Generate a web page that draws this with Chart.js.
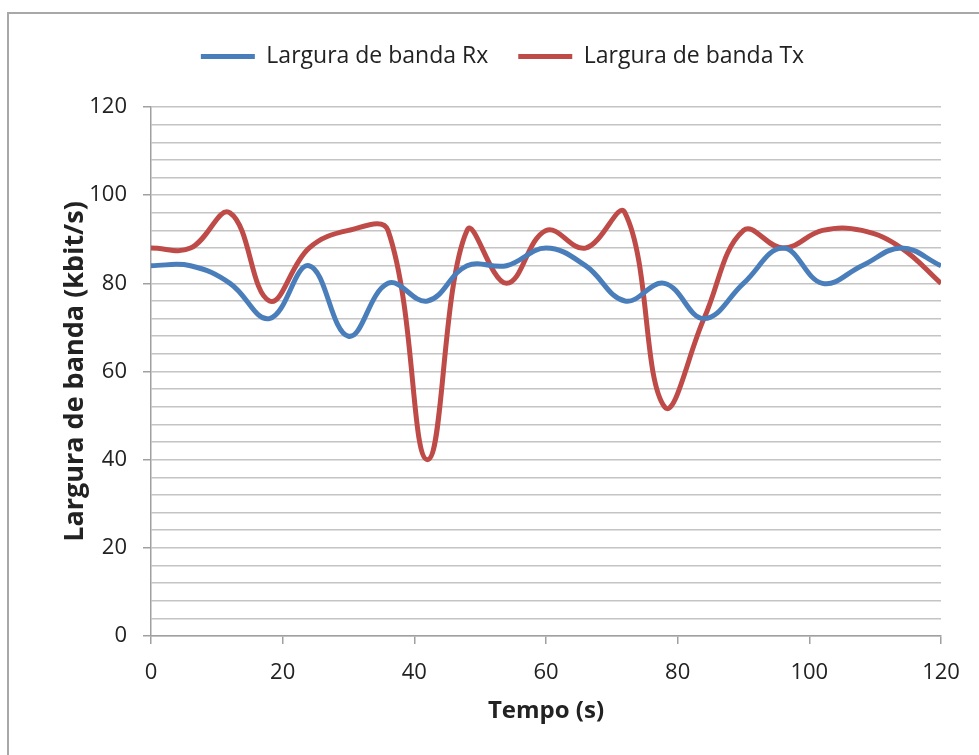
<!DOCTYPE html>
<html>
<head>
<meta charset="utf-8">
<script src="https://cdn.jsdelivr.net/npm/chart.js@4"></script>
<style>
  body { margin: 0; background: #fff; }
  #wrap { position: relative; width: 979px; height: 755px; overflow: hidden; }
  #frame { position: absolute; left: 7px; top: 12px; width: 1000px; height: 800px; border: 2px solid #a8a8a8; }
  canvas { position: absolute; left: 0; top: 0; }
</style>
</head>
<body>
<div id="wrap">
  <div id="frame"></div>
  <canvas id="myChart" width="979" height="755"></canvas>
</div>
<script>
let times = [0, 6, 12, 18, 24, 30, 36, 42, 48, 54, 60, 66, 72, 78, 84, 90, 96, 102, 108, 114, 120];
let rx = [84, 84, 80, 72, 84, 68, 80, 76, 84, 84, 88, 84, 76, 80, 72, 80, 88, 80, 84, 88, 84];
let tx = [88, 88, 96, 76, 88, 92, 92, 40, 92, 80, 92, 88, 96, 52, 72, 92, 88, 92, 92, 88, 80];
let seriesNames = ['Largura de banda Rx', 'Largura de banda Tx'];
let colors = ['#4a7ebb', '#be4b48'];

let textColor = '#222';
let axisGrey = '#a0a0a0';

function points(values) {
    return values.map((v, i) => ({ x: times[i], y: v }));
}

// extra room under the legend, and draw it a little to the right like the Excel layout
let legendGap = {
    id: 'legendGap',
    beforeInit(chart) {
        let legend = chart.legend;
        let fit = legend.fit;
        legend.fit = function () {
            fit.call(this);
            this.height += 29;
        };
        let draw = legend.draw;
        legend.draw = function () {
            let c = this.ctx;
            c.save();
            c.translate(11, 0);
            draw.call(this);
            c.restore();
        };
    }
};

let ctx = document.getElementById('myChart').getContext('2d');

let chart = new Chart(ctx, {
    type: 'line',
    data: {
        datasets: [{
            label: seriesNames[0],
            data: points(rx),
            borderColor: colors[0],
            backgroundColor: colors[0],
            borderWidth: 5,
            pointRadius: 0,
            tension: 0.4
        }, {
            label: seriesNames[1],
            data: points(tx),
            borderColor: colors[1],
            backgroundColor: colors[1],
            borderWidth: 5,
            pointRadius: 0,
            tension: 0.4
        }]
    },
    plugins: [legendGap],
    options: {
        responsive: false,
        animation: false,
        layout: {
            padding: { left: 42, right: 38, top: 15, bottom: 25 }
        },
        plugins: {
            legend: {
                position: 'top',
                labels: {
                    boxWidth: 54,
                    boxHeight: 5,
                    padding: 30,
                    color: textColor,
                    font: { family: 'Open Sans', size: 23 },
                    generateLabels(chart) {
                        let items = Chart.defaults.plugins.legend.labels.generateLabels(chart);
                        items.forEach(item => {
                            item.lineWidth = 0;
                            item.fillStyle = item.strokeStyle;
                        });
                        return items;
                    }
                }
            },
            tooltip: { enabled: false }
        },
        scales: {
            x: {
                type: 'linear',
                min: 0,
                max: 120,
                afterFit(scale) { scale.height = 94; },
                ticks: {
                    stepSize: 20,
                    padding: 16,
                    color: textColor,
                    font: { family: 'Open Sans', size: 22 }
                },
                grid: {
                    drawOnChartArea: false,
                    tickLength: 8,
                    color: axisGrey,
                    lineWidth: 1.5
                },
                border: { color: axisGrey, width: 1.5 },
                title: {
                    display: true,
                    text: 'Tempo (s)',
                    color: textColor,
                    font: { family: 'Open Sans', size: 24, weight: 'bold' }
                }
            },
            y: {
                min: 0,
                max: 120,
                afterFit(scale) { scale.width = 109; },
                ticks: {
                    stepSize: 4,
                    autoSkip: false,
                    padding: 16,
                    color: textColor,
                    font: { family: 'Open Sans', size: 22 },
                    callback: v => (v % 20 === 0 ? v : '')
                },
                grid: {
                    color: '#c4c4c4',
                    lineWidth: 1.5,
                    tickLength: 8,
                    tickColor: c => (c.tick && c.tick.value % 20 === 0 ? axisGrey : 'rgba(0,0,0,0)')
                },
                border: { color: axisGrey, width: 1.5 },
                title: {
                    display: true,
                    text: 'Largura de banda (kbit/s)',
                    color: textColor,
                    padding: { top: 17, bottom: 4 },
                    font: { family: 'Open Sans', size: 27, weight: 'bold' }
                }
            }
        }
    }
});
</script>
</body>
</html>
